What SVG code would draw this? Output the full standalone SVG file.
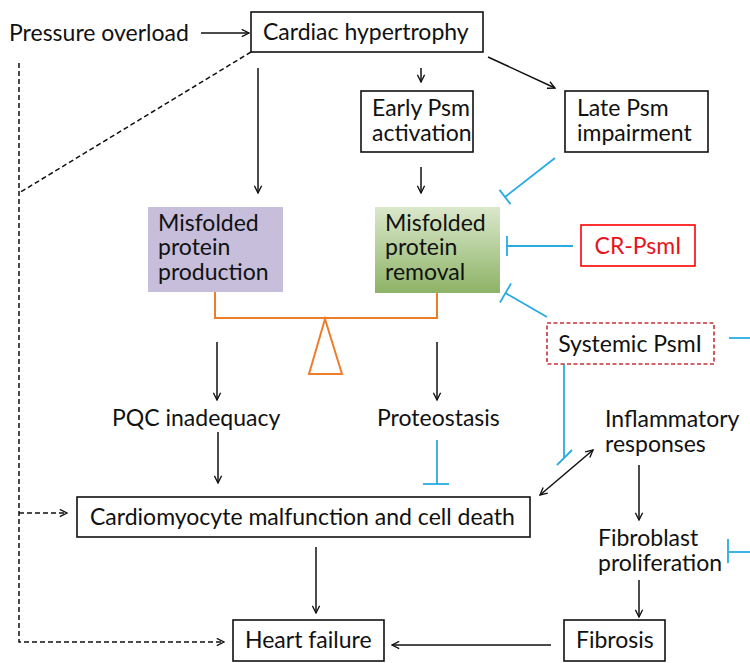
<svg xmlns="http://www.w3.org/2000/svg" width="750" height="663" viewBox="0 0 750 663">
<defs>
<style>
text{font-family:Lato,"Liberation Sans",sans-serif;font-size:23px;fill:#111}
.box{fill:#fff;stroke:#111;stroke-width:1.6}
.ln{stroke:#111;stroke-width:1.5;fill:none}
.ar{marker-end:url(#ah)}
.dash{stroke-dasharray:5,3}
.blue{stroke:#29abe2;stroke-width:1.8;fill:none}
.or{stroke:#ee7d2b;stroke-width:2;fill:none}
</style>
<marker id="ah" viewBox="0 0 10 10" refX="9" refY="5" markerWidth="9" markerHeight="9" orient="auto-start-reverse" markerUnits="userSpaceOnUse">
<path d="M1,1 L9,5 L1,9" fill="none" stroke="#111" stroke-width="1.5"/>
</marker>
<linearGradient id="gg" x1="0" y1="0" x2="0" y2="1">
<stop offset="0" stop-color="#dbe8cc"/>
<stop offset="1" stop-color="#8db366"/>
</linearGradient>
</defs>

<g id="connectors">
<line class="ln ar" x1="201" y1="33" x2="249" y2="33"/>
<line class="ln ar" x1="258" y1="68" x2="258" y2="193"/>
<line class="ln ar" x1="421" y1="68" x2="421" y2="82"/>
<line class="ln ar" x1="488" y1="57" x2="555" y2="88"/>
<line class="ln ar" x1="421" y1="167" x2="421" y2="193"/>
<polyline class="ln dash" points="251,52 19,193"/>
<polyline class="ln dash ar" points="19,63 19,642 224,642"/>
<line class="ln dash ar" x1="19" y1="513" x2="67" y2="513"/>
<line class="ln ar" x1="217" y1="342" x2="217" y2="400"/>
<line class="ln ar" x1="437" y1="342" x2="437" y2="400"/>
<line class="ln ar" x1="218" y1="432" x2="218" y2="483"/>
<line class="ln ar" x1="540" y1="495" x2="593" y2="450" style="marker-start:url(#ah)"/>
<line class="ln ar" x1="316" y1="547" x2="316" y2="613"/>
<line class="ln ar" x1="639" y1="465" x2="639" y2="520"/>
<line class="ln ar" x1="639" y1="580" x2="639" y2="617"/>
<line class="ln ar" x1="551" y1="645" x2="392" y2="645"/>
<polyline class="or" points="215,292 215,318 437,318 437,292"/>
<polygon class="or" points="325,319 309,374 342,374"/>
<line class="blue" x1="555" y1="158" x2="505" y2="197"/>
<line class="blue" x1="499.5" y1="189.9" x2="510.5" y2="204.1"/>
<line class="blue" x1="573" y1="246" x2="507" y2="246"/>
<line class="blue" x1="507" y1="236" x2="507" y2="256"/>
<line class="blue" x1="547" y1="317" x2="505.5" y2="293"/>
<line class="blue" x1="511" y1="283.5" x2="500" y2="302.5"/>
<line class="blue" x1="729" y1="338" x2="750" y2="338"/>
<line class="blue" x1="564" y1="364" x2="564" y2="458"/>
<line class="blue" x1="557" y1="465" x2="572" y2="450"/>
<line class="blue" x1="437" y1="440" x2="437" y2="484"/>
<line class="blue" x1="423" y1="484" x2="449" y2="484"/>
<line class="blue" x1="728" y1="552" x2="750" y2="552"/>
<line class="blue" x1="728" y1="539" x2="728" y2="563"/>
</g>

<g id="pressure-overload"><text x="9" y="41">Pressure overload</text></g>
<g id="cardiac-hypertrophy"><rect class="box" x="251" y="12" width="232" height="40"/><text x="263" y="40">Cardiac hypertrophy</text></g>
<g id="early-psm"><rect class="box" x="361" y="91" width="112" height="61"/><text x="372" y="116">Early Psm</text><text x="372" y="141">activation</text></g>
<g id="late-psm"><rect class="box" x="565" y="91" width="143" height="61"/><text x="577" y="116">Late Psm</text><text x="577" y="141">impairment</text></g>
<g id="production"><rect x="148" y="207" width="135" height="85" fill="#c6bedb"/><text x="158" y="231">Misfolded</text><text x="158" y="255">protein</text><text x="158" y="280">production</text></g>
<g id="removal"><rect x="375" y="207" width="125" height="86" fill="url(#gg)"/><text x="385" y="231">Misfolded</text><text x="385" y="255">protein</text><text x="385" y="280">removal</text></g>
<g id="cr-psmi"><rect x="581" y="225" width="114" height="41" fill="#fff" stroke="#f00" stroke-width="1.6"/><text x="638" y="254" text-anchor="middle" style="fill:#e8141c">CR-PsmI</text></g>
<g id="systemic-psmi"><rect x="547" y="323" width="167" height="41" fill="#fff" stroke="#c8303a" stroke-width="1.6" stroke-dasharray="4,2.5"/><text x="630" y="352" text-anchor="middle">Systemic PsmI</text></g>
<g id="pqc"><text x="112" y="426">PQC inadequacy</text></g>
<g id="proteostasis"><text x="377" y="426">Proteostasis</text></g>
<g id="inflammatory"><text x="605" y="427">Inflammatory</text><text x="605" y="452">responses</text></g>
<g id="cardiomyocyte"><rect class="box" x="77" y="497" width="453" height="40"/><text x="90" y="525">Cardiomyocyte malfunction and cell death</text></g>
<g id="fibroblast"><text x="598" y="546">Fibroblast</text><text x="598" y="571">proliferation</text></g>
<g id="heart-failure"><rect class="box" x="233" y="620" width="151" height="41"/><text x="245" y="648">Heart failure</text></g>
<g id="fibrosis"><rect class="box" x="564" y="620" width="101" height="41"/><text x="576" y="648">Fibrosis</text></g>
</svg>
